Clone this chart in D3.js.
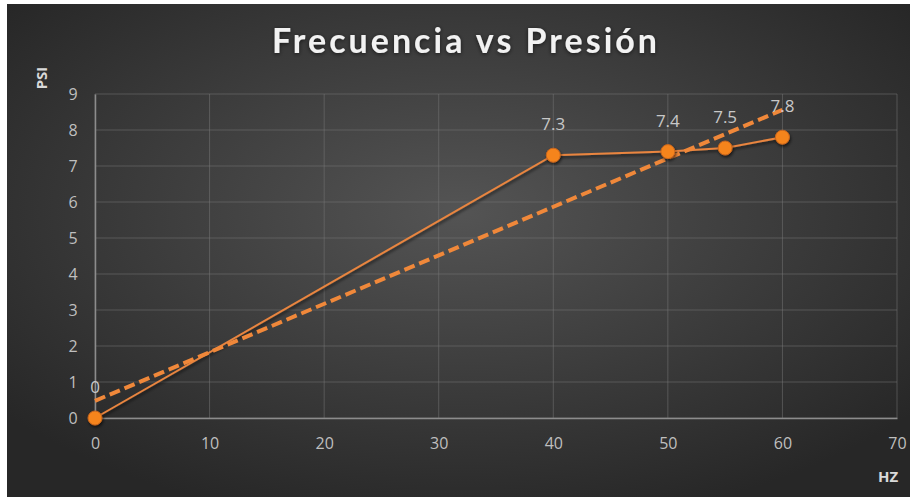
<!DOCTYPE html>
<html lang="es">
<head>
    <meta charset="UTF-8">
    <title>Frecuencia vs Presión</title>
    <script src="https://cdnjs.cloudflare.com/ajax/libs/d3/7.8.5/d3.min.js"></script>
    <style>
        html, body { margin: 0; padding: 0; background: #fff; }
        svg { display: block; }
    </style>
</head>
<body>
    <div class="chart"></div>
<script>
    const hz = [0, 40, 50, 55, 60]
    const psi = [0, 7.3, 7.4, 7.5, 7.8]
    const xTicks = [0, 10, 20, 30, 40, 50, 60, 70]
    const yTicks = [0, 1, 2, 3, 4, 5, 6, 7, 8, 9]

    const width = 910
    const height = 497
    const plot = { left: 95, right: 897, top: 94, bottom: 418 }

    const x = d3.scaleLinear().domain([0, 70]).range([plot.left, plot.right])
    const y = d3.scaleLinear().domain([0, 9]).range([plot.bottom, plot.top])

    const points = hz.map((h, i) => [h, psi[i]])

    // linear trendline (least squares), like Excel
    const mx = d3.mean(hz), my = d3.mean(psi)
    const slope = d3.sum(points, d => (d[0] - mx) * (d[1] - my)) / d3.sum(hz, h => (h - mx) * (h - mx))
    const icpt = my - slope * mx
    const trend = [d3.min(hz), d3.max(hz)].map(h => [h, icpt + slope * h])

    const svg = d3.select('.chart').append('svg')
        .attr('width', width)
        .attr('height', height)

    const defs = svg.append('defs')
    const grad = defs.append('radialGradient')
        .attr('id', 'bg')
        .attr('cx', '50%').attr('cy', '42%').attr('r', '65%')
    grad.append('stop').attr('offset', '0%').attr('stop-color', '#545454')
    grad.append('stop').attr('offset', '100%').attr('stop-color', '#272727')

    const glow = defs.append('filter').attr('id', 'glow')
        .attr('x', '-10%').attr('y', '-30%').attr('width', '120%').attr('height', '160%')
    glow.append('feDropShadow').attr('dx', 0).attr('dy', 1).attr('stdDeviation', 2)
        .attr('flood-color', '#000').attr('flood-opacity', 0.6)

    const shadow = defs.append('filter').attr('id', 'shadow')
        .attr('x', '-60%').attr('y', '-60%').attr('width', '220%').attr('height', '220%')
    shadow.append('feDropShadow').attr('dx', 1).attr('dy', 2).attr('stdDeviation', 1.5)
        .attr('flood-color', '#000').attr('flood-opacity', 0.6)

    svg.append('rect')
        .attr('x', 7).attr('y', 4)
        .attr('width', width - 7).attr('height', height - 4)
        .attr('fill', 'url(#bg)')

    // grid
    svg.append('g')
        .selectAll('line.h')
        .data(yTicks)
        .join('line')
        .attr('x1', plot.left).attr('x2', plot.right)
        .attr('y1', d => y(d)).attr('y2', d => y(d))
        .attr('stroke', '#7a7a7a').attr('stroke-opacity', 0.5).attr('stroke-width', 1)

    svg.append('g')
        .selectAll('line.v')
        .data(xTicks)
        .join('line')
        .attr('x1', d => x(d)).attr('x2', d => x(d))
        .attr('y1', plot.top).attr('y2', plot.bottom)
        .attr('stroke', '#7a7a7a').attr('stroke-opacity', 0.5).attr('stroke-width', 1)

    // axes
    const xAxis = d3.axisBottom(x).tickValues(xTicks).tickSize(0).tickPadding(20)
    const gx = svg.append('g')
        .attr('transform', `translate(0, ${plot.bottom})`)
        .call(xAxis)
    gx.select('.domain').attr('stroke', '#8c8c8c').attr('stroke-width', 1.5)

    const yAxis = d3.axisLeft(y).tickValues(yTicks).tickSize(0).tickPadding(22)
    const gy = svg.append('g')
        .attr('transform', `translate(${plot.left}, 0)`)
        .call(yAxis)
    gy.select('.domain').attr('stroke', '#8c8c8c').attr('stroke-width', 1.5)

    svg.selectAll('.tick text')
        .attr('fill', '#bfbfbf')
        .attr('font-size', '16px')
        .attr('font-family', 'Open Sans, sans-serif')
    gy.selectAll('.tick text').attr('text-anchor', 'middle')

    // series line
    const line = d3.line().x(d => x(d[0])).y(d => y(d[1]))
    svg.append('path')
        .datum(points)
        .attr('d', line)
        .attr('fill', 'none')
        .attr('stroke', '#e9853f')
        .attr('stroke-width', 2)
        .attr('filter', 'url(#shadow)')

    // trendline
    svg.append('path')
        .datum(trend)
        .attr('d', line)
        .attr('fill', 'none')
        .attr('stroke', '#f0883a')
        .attr('stroke-width', 4)
        .attr('stroke-dasharray', '11,5')

    // markers
    svg.append('g')
        .selectAll('circle')
        .data(points)
        .join('circle')
        .attr('cx', d => x(d[0]))
        .attr('cy', d => y(d[1]))
        .attr('r', 7)
        .attr('fill', '#f5841f')
        .attr('stroke', '#c8651c')
        .attr('stroke-width', 1)
        .attr('filter', 'url(#shadow)')

    // data labels
    svg.append('g')
        .selectAll('text')
        .data(points)
        .join('text')
        .attr('x', d => x(d[0]))
        .attr('y', d => y(d[1]) - 25)
        .attr('text-anchor', 'middle')
        .attr('fill', '#c8c8c8')
        .attr('font-size', '17px')
        .attr('font-family', 'Open Sans, sans-serif')
        .text(d => d[1])

    // title
    svg.append('text')
        .attr('x', 466)
        .attr('y', 53)
        .attr('text-anchor', 'middle')
        .attr('fill', '#f2f2f2')
        .attr('font-size', '34px')
        .attr('font-weight', 'bold')
        .attr('letter-spacing', '3px')
        .attr('font-family', 'Lato, sans-serif')
        .attr('filter', 'url(#glow)')
        .text('Frecuencia vs Presión')

    // axis titles
    svg.append('text')
        .attr('transform', 'translate(47, 78) rotate(-90)')
        .attr('text-anchor', 'middle')
        .attr('fill', '#d9d9d9')
        .attr('font-size', '15px')
        .attr('font-weight', 'bold')
        .attr('font-family', 'Open Sans, sans-serif')
        .text('PSI')

    svg.append('text')
        .attr('x', 888)
        .attr('y', 482)
        .attr('text-anchor', 'middle')
        .attr('fill', '#d9d9d9')
        .attr('font-size', '15px')
        .attr('font-weight', 'bold')
        .attr('font-family', 'Open Sans, sans-serif')
        .text('HZ')
</script>
</body>
</html>
